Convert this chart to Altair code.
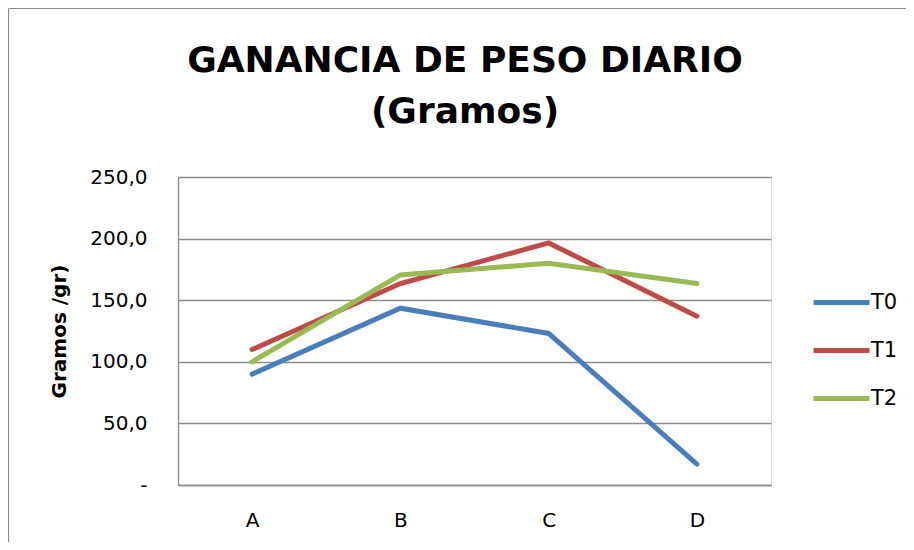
import altair as alt
import pandas as pd

categories = ["A", "B", "C", "D"]
series_names = ["T0", "T1", "T2"]
t0_values = [90.0, 143.5, 123.0, 17.0]
t1_values = [110.0, 163.5, 196.5, 137.0]
t2_values = [100.0, 170.5, 180.0, 163.5]
y_ticks = [0, 50, 100, 150, 200, 250]
colors = ["#4A7EBB", "#BE4B48", "#98B954"]
title_lines = ["GANANCIA DE PESO DIARIO", "(Gramos)"]

rows = []
for name, vals in zip(series_names, [t0_values, t1_values, t2_values]):
    for c, v in zip(categories, vals):
        rows.append({"cat": c, "serie": name, "valor": v})
df = pd.DataFrame(rows)

FONT = "DejaVu Sans"
NBSP = "\u00a0"

lines = alt.Chart(df).mark_line(strokeWidth=5, strokeCap="round", strokeJoin="miter").encode(
    x=alt.X("cat:N", sort=categories, title=None,
            scale=alt.Scale(type="point", padding=0.5),
            axis=alt.Axis(labelAngle=0, ticks=False, grid=False, domain=True,
                          domainColor="#8b8b8b", domainWidth=1.3,
                          labelPadding=25, labelFontSize=20, labelFont=FONT,
                          labelColor="#000000")),
    y=alt.Y("valor:Q", title="Gramos /gr)",
            scale=alt.Scale(domain=[0, 250], nice=False),
            axis=alt.Axis(values=y_ticks, ticks=False, grid=True,
                          gridColor="#8b8b8b", gridWidth=1.3,
                          domain=True, domainColor="#8b8b8b", domainWidth=1.3,
                          labelExpr="datum.value == 0 ? '-" + NBSP * 3 + "' : replace(format(datum.value, '.1f'), '.', ',')",
                          labelPadding=31, labelFontSize=20, labelFont=FONT,
                          labelColor="#000000",
                          titleFont=FONT, titleFontSize=20, titleFontWeight="bold",
                          titleColor="#000000", titlePadding=20)),
    color=alt.Color("serie:N", sort=series_names,
                    scale=alt.Scale(domain=series_names, range=colors),
                    legend=alt.Legend(title=None, orient="none", legendX=641, legendY=103,
                                      symbolType="M-1.4,0H1.4", symbolSize=1600,
                                      symbolStrokeWidth=5, rowPadding=15,
                                      labelOffset=7, labelFontSize=21, labelFont=FONT,
                                      labelColor="#000000")),
)

frame_df = pd.DataFrame({"k": [0]})
left_rule = alt.Chart(frame_df).mark_rule(color="#8b8b8b", strokeWidth=1.2).encode(
    x=alt.value(-169.5), y=alt.value(-168.5), y2=alt.value(365))
top_rule = alt.Chart(frame_df).mark_rule(color="#8b8b8b", strokeWidth=1.2).encode(
    x=alt.value(-169.5), x2=alt.value(728), y=alt.value(-168.5))

title1 = alt.Chart(frame_df).mark_text(font=FONT, fontSize=36, fontWeight="bold",
                                       color="#000000", align="center", baseline="alphabetic").encode(
    x=alt.value(287), y=alt.value(-105), text=alt.value(title_lines[0]))
title2 = alt.Chart(frame_df).mark_text(font=FONT, fontSize=36, fontWeight="bold",
                                       color="#000000", align="center", baseline="alphabetic").encode(
    x=alt.value(287), y=alt.value(-54), text=alt.value(title_lines[1]))

chart = alt.layer(lines, left_rule, top_rule, title1, title2).properties(
    width=593, height=308,
    autosize=alt.AutoSizeParams(type="none"),
    padding={"left": 170, "top": 169, "right": 135, "bottom": 57},
).configure_view(stroke=None).configure(background="white")

chart.save("out.html", embed_options={"renderer": "svg", "actions": False})
